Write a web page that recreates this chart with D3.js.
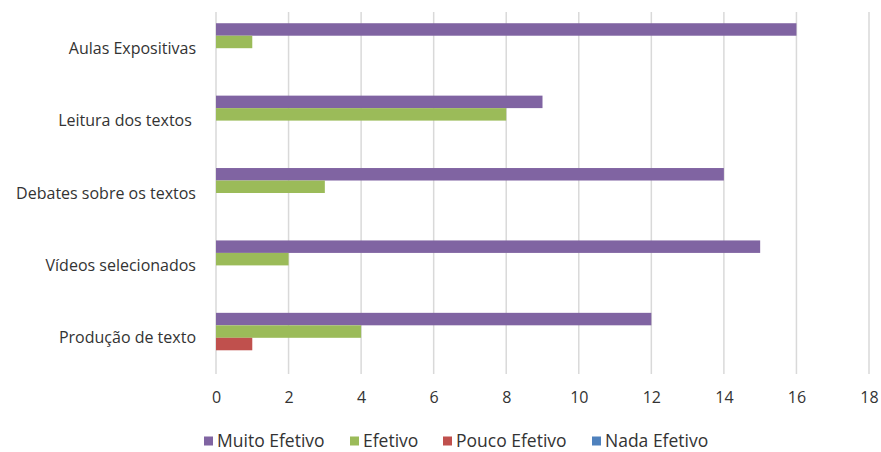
<!DOCTYPE html>
<html>
<head>
<meta charset="utf-8">
<script src="https://cdn.jsdelivr.net/npm/d3@7"></script>
<style>
  body { margin: 0; background: #fff; }
  text { font-family: 'Open Sans', sans-serif; fill: #333; }
</style>
</head>
<body>
<div id="chart"></div>
<script>
// categories top -> bottom
const categories = ['Aulas Expositivas', 'Leitura dos textos ', 'Debates sobre os textos', 'Vídeos selecionados', 'Produção de texto']
const series = ['Muito Efetivo', 'Efetivo', 'Pouco Efetivo', 'Nada Efetivo']
const colors = ['#8064A2', '#9BBB59', '#C0504D', '#4F81BD']
const muitoEfetivo = [16, 9, 14, 15, 12]
const efetivo = [1, 8, 3, 2, 4]
const poucoEfetivo = [0, 0, 0, 0, 1]
const nadaEfetivo = [0, 0, 0, 0, 0]
const xTicks = [0, 2, 4, 6, 8, 10, 12, 14, 16, 18]

const values = [muitoEfetivo, efetivo, poucoEfetivo, nadaEfetivo]
const width = 881
const height = 452

const svg = d3.select('#chart').append('svg')
  .attr('width', width)
  .attr('height', height)

const x = d3.scaleLinear().domain([0, 18]).range([216, 869])
const y = d3.scaleBand().domain(categories).range([12, 374])
const inner = d3.scaleBand().domain(series)
  .range([0, y.bandwidth()])
  .paddingOuter(0.9)

// gridlines
svg.append('g')
  .selectAll('line')
  .data(xTicks)
  .join('line')
  .attr('x1', d => x(d))
  .attr('x2', d => x(d))
  .attr('y1', 12)
  .attr('y2', 374)
  .attr('stroke', '#d9d9d9')
  .attr('stroke-width', 1.5)

// bars
const rows = []
categories.forEach((c, i) => {
  series.forEach((s, j) => {
    rows.push({ cat: c, ser: s, value: values[j][i], color: colors[j] })
  })
})

svg.append('g')
  .selectAll('rect')
  .data(rows.filter(d => d.value > 0))
  .join('rect')
  .attr('x', x(0))
  .attr('y', d => y(d.cat) + inner(d.ser))
  .attr('width', d => x(d.value) - x(0))
  .attr('height', inner.bandwidth())
  .attr('fill', d => d.color)

// category labels
svg.append('g')
  .selectAll('text')
  .data(categories)
  .join('text')
  .attr('x', 196)
  .attr('y', d => y(d) + y.bandwidth() / 2)
  .attr('dy', '0.35em')
  .attr('text-anchor', 'end')
  .attr('font-size', 16)
  .style('white-space', 'pre')
  .text(d => d)

// x axis
const xAxis = svg.append('g')
  .attr('transform', 'translate(0,374)')
  .call(d3.axisBottom(x).tickValues(xTicks).tickSize(0).tickPadding(18))
xAxis.select('.domain').remove()
xAxis.selectAll('text')
  .attr('font-size', 16)
  .style('font-family', "'Open Sans', sans-serif")
  .attr('fill', '#333')

// legend
const legendX = [204, 350, 443, 592]
const legend = svg.append('g')
  .selectAll('g')
  .data(series)
  .join('g')
  .attr('transform', (d, i) => `translate(${legendX[i]},441)`)

legend.append('rect')
  .attr('x', 0)
  .attr('y', -4.5)
  .attr('width', 9)
  .attr('height', 9)
  .attr('fill', (d, i) => colors[i])

legend.append('text')
  .attr('x', 13)
  .attr('dy', '0.35em')
  .attr('font-size', 17.5)
  .text(d => d)
</script>
</body>
</html>
